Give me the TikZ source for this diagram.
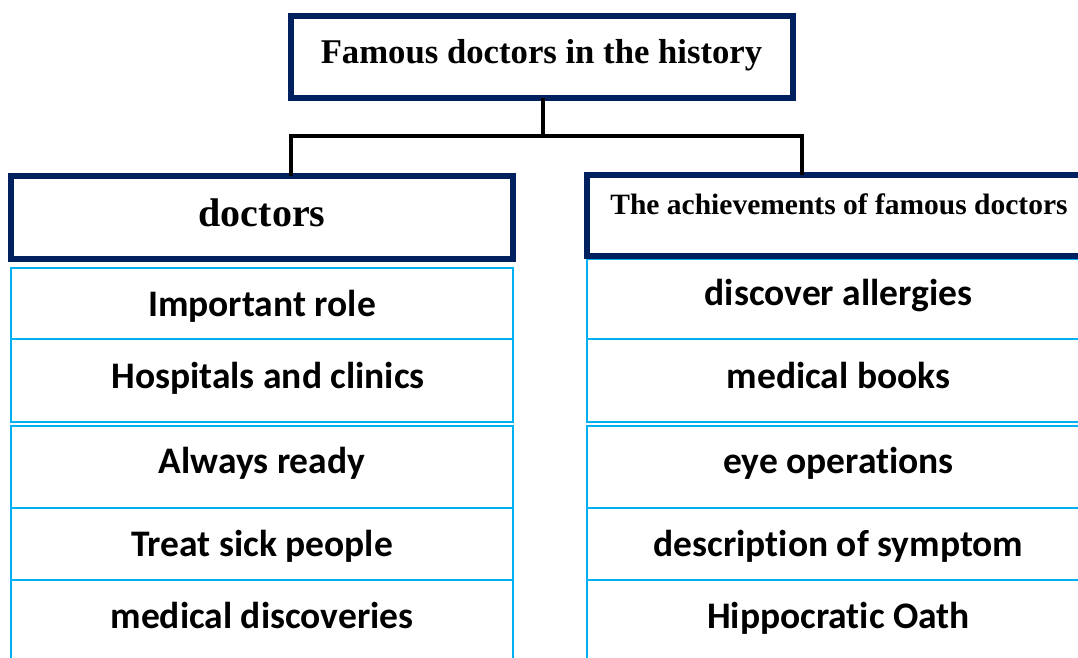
\documentclass[tikz,border=0pt]{standalone}
\usepackage{fontspec}
\newfontfamily\calfont[Ligatures=NoCommon]{Carlito}
\newfontfamily\tnrfont{Liberation Serif}
\definecolor{navy}{HTML}{002060}
\definecolor{skyline}{HTML}{00B0F0}
\tikzset{
  navybox/.style={draw=navy, line width=6pt, inner sep=0pt, outer sep=0pt, fill=white},
  rowbox/.style={draw=skyline, line width=2.5pt, inner sep=0pt, outer sep=0pt, anchor=north west},
  conn/.style={draw=black, line width=3.5pt},
  item/.style={anchor=base, inner sep=0pt, font=\calfont\bfseries\fontsize{37.5}{41}\selectfont},
  headtext/.style={anchor=base, inner sep=0pt}
}
\begin{document}
\begin{tikzpicture}[x=1pt,y=-1pt]
\useasboundingbox (0,0) rectangle (1078,657);
\clip (0,0) rectangle (1078,657);
\fill[white] (0,0) rectangle (1078,657);
% left rows
\node[rowbox, minimum width=502pt, minimum height=71pt] (l1) at (11,268) {};
\node[rowbox, minimum width=502pt, minimum height=83pt] (l2) at (11,339) {};
\node[rowbox, minimum width=502pt, minimum height=82pt] (l3) at (11,426) {};
\node[rowbox, minimum width=502pt, minimum height=72pt] (l4) at (11,508) {};
\node[rowbox, minimum width=502pt, minimum height=120pt] (l5) at (11,580) {};
% right rows
\node[rowbox, minimum width=503pt, minimum height=80pt] (r1) at (587,259) {};
\node[rowbox, minimum width=503pt, minimum height=83pt] (r2) at (587,339) {};
\node[rowbox, minimum width=503pt, minimum height=82pt] (r3) at (587,426) {};
\node[rowbox, minimum width=503pt, minimum height=72pt] (r4) at (587,508) {};
\node[rowbox, minimum width=503pt, minimum height=120pt] (r5) at (587,580) {};
% heading boxes
\node[navybox, minimum width=502pt, minimum height=82pt] (top) at (542,57) {};
\node[navybox, minimum width=502pt, minimum height=83pt] (doc) at (262,217.5) {};
\node[navybox, minimum width=503pt, minimum height=81pt] (ach) at (838.5,215.5) {};
% heading texts
\node[headtext, font=\tnrfont\bfseries\fontsize{34.7}{38}\selectfont] (toptext) at (541.5,63) {Famous doctors in the history};
\node[headtext, font=\tnrfont\bfseries\fontsize{40}{44}\selectfont] (doctext) at (262,226) {doctors};
\node[headtext, font=\tnrfont\bfseries\fontsize{29.5}{33}\selectfont] (achtext) at (839,214) {The achievements of famous doctors};
% item texts
\node[item] (t1) at (262,316) {Important role};
\node[item] (t2) at (268,388) {Hospitals and clinics};
\node[item] (t3) at (262,473) {Always ready};
\node[item] (t4) at (262,556) {Treat sick people};
\node[item] (t5) at (262,628) {medical discoveries};
\node[item] (u1) at (838.5,305) {discover allergies};
\node[item] (u2) at (838.5,388) {medical books};
\node[item] (u3) at (838.5,473) {eye operations};
\node[item] (u4) at (838.5,556) {description of symptom};
\node[item] (u5) at (838.5,628) {Hippocratic Oath};
% connectors
\coordinate (jl) at (291,136);
\coordinate (jr) at (802,136);
\coordinate (jm) at (543,136);
\draw[conn] (top.south -| jm) -- (jm);
\draw[conn, line cap=rect] (jl) -- (jr);
\draw[conn] (jl) -- (jl |- doc.north);
\draw[conn] (jr) -- (jr |- ach.north);
\end{tikzpicture}
\end{document}
